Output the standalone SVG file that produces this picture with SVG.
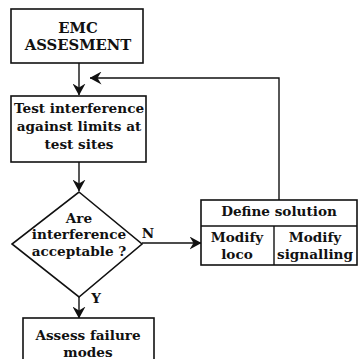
<svg xmlns="http://www.w3.org/2000/svg" width="358" height="359" viewBox="0 0 358 359">
<style>
.box{fill:#fff;stroke:#111;stroke-width:1.6}
.ln{fill:none;stroke:#111;stroke-width:1.4}
text{font-family:"DejaVu Serif","Liberation Serif",serif;font-weight:bold;fill:#111;text-anchor:middle}
.t{font-size:13.6px}
.h{font-size:14.8px}
</style>
<defs>
<marker id="ah" markerWidth="12" markerHeight="13" refX="11.5" refY="6.5" orient="auto" markerUnits="userSpaceOnUse">
<path d="M0,0 L12,6.5 L0,13 L4,6.5 Z" fill="#111"/>
</marker>
</defs>
<g id="connectors">
<line class="ln" x1="79" y1="63" x2="79" y2="95" marker-end="url(#ah)"/>
<polyline class="ln" points="279,200 279,78 90,78" marker-end="url(#ah)"/>
<line class="ln" x1="79" y1="162" x2="79" y2="191" marker-end="url(#ah)"/>
<line class="ln" x1="79" y1="297" x2="79" y2="318" marker-end="url(#ah)"/>
<line class="ln" x1="142" y1="243" x2="201" y2="243" marker-end="url(#ah)"/>
<text class="t" x="148" y="238">N</text>
<text class="t" x="96" y="303">Y</text>
</g>
<g id="emc">
<rect class="box" x="11" y="9" width="132" height="54"/>
<text class="h" x="78" y="33">EMC</text>
<text class="h" x="78" y="50">ASSESMENT</text>
</g>
<g id="test">
<rect class="box" x="11" y="96" width="135" height="66"/>
<text class="t" x="79" y="113">Test interference</text>
<text class="t" x="79" y="131">against limits at</text>
<text class="t" x="79" y="149">test sites</text>
</g>
<g id="decision">
<polygon class="box" points="79,192 142,244 79,297 12,244"/>
<text class="t" x="79" y="223">Are</text>
<text class="t" x="79" y="239">interference</text>
<text class="t" x="79" y="256">acceptable ?</text>
</g>
<g id="assess">
<rect class="box" x="23" y="318" width="131" height="50"/>
<text class="t" x="88" y="340">Assess failure</text>
<text class="t" x="88" y="357">modes</text>
</g>
<g id="define">
<rect class="box" x="201" y="200" width="156" height="65"/>
<line class="ln" x1="201" y1="226" x2="357" y2="226"/>
<line class="ln" x1="274" y1="226" x2="274" y2="265"/>
<text class="t" x="279" y="216">Define solution</text>
<text class="t" x="237" y="242">Modify</text>
<text class="t" x="237" y="259">loco</text>
<text class="t" x="315" y="242">Modify</text>
<text class="t" x="315" y="259">signalling</text>
</g>
</svg>
